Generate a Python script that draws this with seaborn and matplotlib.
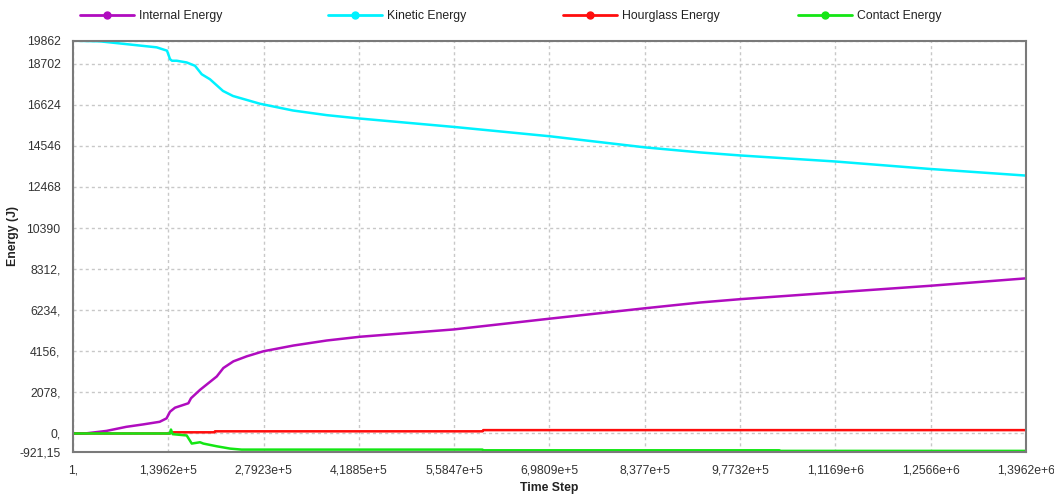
import matplotlib
matplotlib.use("Agg")
import matplotlib.pyplot as plt
from matplotlib.lines import Line2D
import numpy as np
import pandas as pd
import seaborn as sns

# Energy histories (time step, energy in J)
internal_t = [1, 20000, 49000, 78000, 102600, 127000, 137000, 142100, 149400, 169000,
              172900, 186100, 210600, 220300, 235000, 254600, 278900, 322900, 371800,
              420500, 558000, 698800, 838000, 918600, 977200, 1116400, 1255600, 1396200]
internal_e = [0, 10, 130, 336, 458, 591, 764, 1100, 1304, 1528,
              1783, 2206, 2883, 3311, 3648, 3902, 4157, 4447, 4702,
              4891, 5262, 5807, 6332, 6623, 6791, 7132, 7468, 7845]

kinetic_t = [1, 39557, 122626, 137717, 142112, 145000, 151928, 166578, 178739, 188555,
             200715, 219760, 234411, 273967, 322314, 371688, 420475, 558000, 698834,
             838014, 918593, 977197, 1116378, 1255559, 1396200]
kinetic_e = [19862, 19830, 19526, 19358, 18930, 18849, 18849, 18762, 18594, 18166,
             17911, 17321, 17066, 16674, 16332, 16098, 15925, 15502, 15028,
             14468, 14213, 14060, 13755, 13377, 13041]

hourglass_t = [1, 142000, 143000, 207000, 208000, 600000, 601000, 1396200]
hourglass_e = [0, 0, 60, 60, 110, 110, 170, 170]

contact_t = [1, 142000, 143500, 146000, 166600, 174000, 186100, 191000, 210600,
             230000, 247000, 600000, 601000, 1035000, 1036000, 1396200]
contact_e = [0, 0, 200, -35, -100, -510, -443, -510, -647,
             -764, -815, -815, -850, -850, -880, -880]

series_names = ["Internal Energy", "Kinetic Energy", "Hourglass Energy", "Contact Energy"]
series_colors = ["#b00cbf", "#00f2ff", "#ff0d0d", "#14e614"]

x_ticks = [1, 139620, 279230, 418850, 558470, 698090, 837700, 977320, 1116900, 1256600, 1396200]
x_tick_labels = ["1,", "1,3962e+5", "2,7923e+5", "4,1885e+5", "5,5847e+5", "6,9809e+5",
                 "8,377e+5", "9,7732e+5", "1,1169e+6", "1,2566e+6", "1,3962e+6"]
y_ticks = [-921.15, 0, 2078, 4156, 6234, 8312, 10390, 12468, 14546, 16624, 18702, 19862]
y_tick_labels = ["-921,15", "0,", "2078,", "4156,", "6234,", "8312,", "10390", "12468",
                 "14546", "16624", "18702", "19862"]

frames = []
for name, t, e in [(series_names[0], internal_t, internal_e),
                   (series_names[1], kinetic_t, kinetic_e),
                   (series_names[2], hourglass_t, hourglass_e),
                   (series_names[3], contact_t, contact_e)]:
    frames.append(pd.DataFrame({"Time Step": t, "Energy (J)": e, "series": name}))
df = pd.concat(frames, ignore_index=True)

sns.set_style("white")
plt.rcParams["font.family"] = ["Liberation Sans", "DejaVu Sans"]

W, H = 1054, 497
fig = plt.figure(figsize=(W / 100, H / 100), dpi=100)
ax = fig.add_axes([73 / W, 1 - 451.7 / H, (1026 - 73) / W, (451.7 - 40.7) / H])

sns.lineplot(data=df, x="Time Step", y="Energy (J)", hue="series",
             hue_order=series_names, palette=series_colors,
             estimator=None, sort=False, legend=False, linewidth=1.8, ax=ax)

ax.set_xlim(x_ticks[0], x_ticks[-1])
ax.set_ylim(y_ticks[0], y_ticks[-1])
ax.set_xticks(x_ticks)
ax.set_xticklabels(x_tick_labels)
ax.set_yticks(y_ticks)
ax.set_yticklabels(y_tick_labels)

ax.grid(True, linestyle=(0, (2.2, 2.2)), color="#c8c8c8", linewidth=1.0)
ax.set_axisbelow(True)
ax.tick_params(axis="both", which="major", length=6, width=1, color="#c4c4c4",
               labelsize=8.8, labelcolor="#333333", pad=3)
for s in ax.spines.values():
    s.set_color("#7a7a7a")
    s.set_linewidth(1.5)

ax.set_xlabel("")
ax.set_ylabel("")
fig.text(549 / W, 1 - 488 / H, "Time Step", ha="center", va="center",
         fontsize=8.8, fontweight="bold", color="#222222")
fig.text(13 / W, 1 - 236 / H, "Energy (J)", ha="center", va="center", rotation=90,
         fontsize=8.8, fontweight="bold", color="#222222")

# Legend entries spread across the top of the figure
legend_x = [80, 328, 563, 798]
for name, color, lx in zip(series_names, series_colors, legend_x):
    handle = Line2D([], [], color=color, linewidth=2, marker="o", markersize=5)
    fig.legend(handles=[handle], labels=[name], loc="center left",
               bbox_to_anchor=(lx / W, 1 - 16 / H), frameon=False,
               handlelength=4.4, handletextpad=0.45, fontsize=8.8, borderpad=0,
               borderaxespad=0, labelcolor="#222222")

fig.savefig("out.png", dpi=100)
